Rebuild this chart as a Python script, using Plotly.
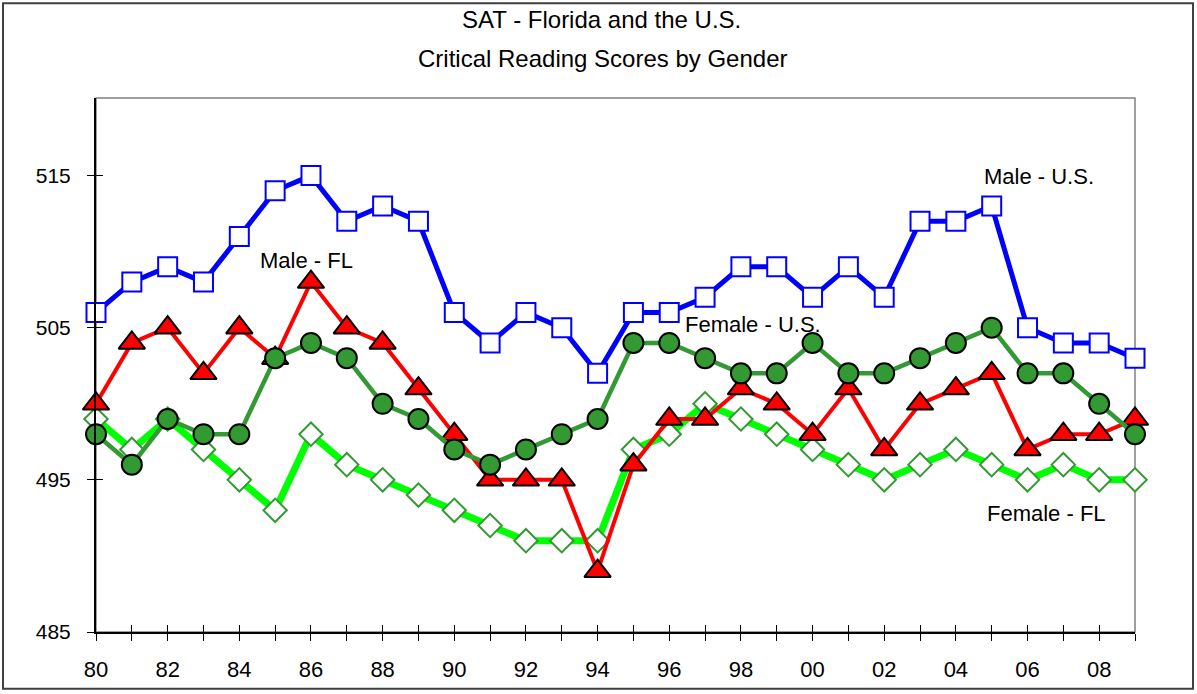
import plotly.graph_objects as go

years = list(range(1980, 2010))
male_us = [506, 508, 509, 508, 511, 514, 515, 512, 513, 512,
           506, 504, 506, 505, 502, 506, 506, 507, 509, 509,
           507, 509, 507, 512, 512, 513, 505, 504, 504, 503]
male_fl = [500, 504, 505, 502, 505, 503, 508, 505, 504, 501,
           498, 495, 495, 495, 489, 496, 499, 499, 501, 500,
           498, 501, 497, 500, 501, 502, 497, 498, 498, 499]
female_us = [498, 496, 499, 498, 498, 503, 504, 503, 500, 499,
             497, 496, 497, 498, 499, 504, 504, 503, 502, 502,
             504, 502, 502, 503, 504, 505, 502, 502, 500, 498]
female_fl = [499, 497, 499, 497, 495, 493, 498, 496, 495, 494,
             493, 492, 491, 491, 491, 497, 498, 500, 499, 498,
             497, 496, 495, 496, 497, 496, 495, 496, 495, 495]
x_tick_vals = years
x_tick_text = [f"{y % 100:02d}" if y % 2 == 0 else "" for y in years]
y_tick_vals = [485, 495, 505, 515]

FONT = "Liberation Sans, Arial, sans-serif"

fig = go.Figure()
fig.add_trace(go.Scatter(
    x=years, y=female_fl, mode="lines+markers", name="Female - FL",
    line=dict(color="#00FF00", width=7), cliponaxis=False,
    marker=dict(symbol="diamond", size=18, color="white",
                line=dict(color="#339933", width=2))))
fig.add_trace(go.Scatter(
    x=years, y=male_fl, mode="lines+markers", name="Male - FL",
    line=dict(color="#FF0000", width=4), cliponaxis=False,
    marker=dict(symbol="triangle-up", size=23, color="#FF0000",
                line=dict(color="black", width=2))))
fig.add_trace(go.Scatter(
    x=years, y=female_us, mode="lines+markers", name="Female - U.S.",
    line=dict(color="#339933", width=4.5), cliponaxis=False,
    marker=dict(symbol="circle", size=20, color="#339933",
                line=dict(color="black", width=2))))
fig.add_trace(go.Scatter(
    x=years, y=male_us, mode="lines+markers", name="Male - U.S.",
    line=dict(color="#0000FF", width=5), cliponaxis=False,
    marker=dict(symbol="square", size=19, color="white",
                line=dict(color="#0000FF", width=2))))
# invisible trace to activate overlay axes (inside ticks for cross-tick look)
fig.add_trace(go.Scatter(x=[years[0]], y=[y_tick_vals[0]], xaxis="x2", yaxis="y2",
                         mode="markers", marker=dict(opacity=0), hoverinfo="skip",
                         showlegend=False))

L, R, T, B = 96, 62, 98, 60
W, H = 1197, 694
yr = [485, 520.1]
fig.update_layout(
    width=W, height=H,
    margin=dict(l=L, r=R, t=T, b=B),
    paper_bgcolor="white", plot_bgcolor="white",
    showlegend=False,
    font=dict(family=FONT, color="black"),
    xaxis=dict(range=[1980, 2009], tickvals=x_tick_vals, ticktext=x_tick_text,
               ticks="outside", ticklen=7, tickcolor="black", tickwidth=1,
               showgrid=False, zeroline=False, showline=True, linecolor="black",
               linewidth=2, tickfont=dict(size=22, family=FONT),
               ticklabelstandoff=10),
    yaxis=dict(range=yr, tickvals=y_tick_vals,
               ticks="outside", ticklen=7, tickcolor="black", tickwidth=1,
               showgrid=False, zeroline=False, showline=True, linecolor="black",
               linewidth=2, tickfont=dict(size=21, family=FONT),
               ticklabelstandoff=12),
    xaxis2=dict(range=[1980, 2009], overlaying="x", anchor="y", side="bottom",
                tickvals=x_tick_vals, ticks="inside", ticklen=7, tickcolor="black",
                showticklabels=False, showgrid=False, zeroline=False, showline=False),
    yaxis2=dict(range=yr, overlaying="y", anchor="x", side="left",
                tickvals=y_tick_vals, ticks="inside", ticklen=7, tickcolor="black",
                showticklabels=False, showgrid=False, zeroline=False, showline=False),
)

pw, ph = W - L - R, H - T - B
# plot-area border (top and right) in gray
fig.add_shape(type="rect", xref="paper", yref="paper", x0=0, x1=1, y0=0, y1=1,
              line=dict(color="#808080", width=1.5), layer="below")
# outer chart border
fig.add_shape(type="rect", xref="paper", yref="paper",
              x0=(3 - L) / pw, x1=(1193 - L) / pw,
              y0=(H - B - 691) / ph, y1=(H - B - 3) / ph,
              line=dict(color="#404040", width=2))

# title lines
fig.add_annotation(text="SAT - Florida and the U.S.", xref="paper", yref="paper",
                   x=(601 - L) / pw, y=(H - B - 19) / ph, showarrow=False,
                   font=dict(size=24, family=FONT), xanchor="center", yanchor="middle")
fig.add_annotation(text="Critical Reading Scores by Gender", xref="paper", yref="paper",
                   x=(603 - L) / pw, y=(H - B - 58) / ph, showarrow=False,
                   font=dict(size=24, family=FONT), xanchor="center", yanchor="middle")

labels = [("Male - FL", 1985.87, 509.4), ("Male - U.S.", 2006.32, 514.93),
          ("Female - U.S.", 1998.33, 505.2), ("Female - FL", 2006.54, 492.77)]
for txt, lx, ly in labels:
    fig.add_annotation(text=txt, x=lx, y=ly, showarrow=False,
                       font=dict(size=22, family=FONT), xanchor="center", yanchor="middle")

fig.write_html("out.html", config={"displayModeBar": False},
               post_script="document.body.style.margin='0';")
